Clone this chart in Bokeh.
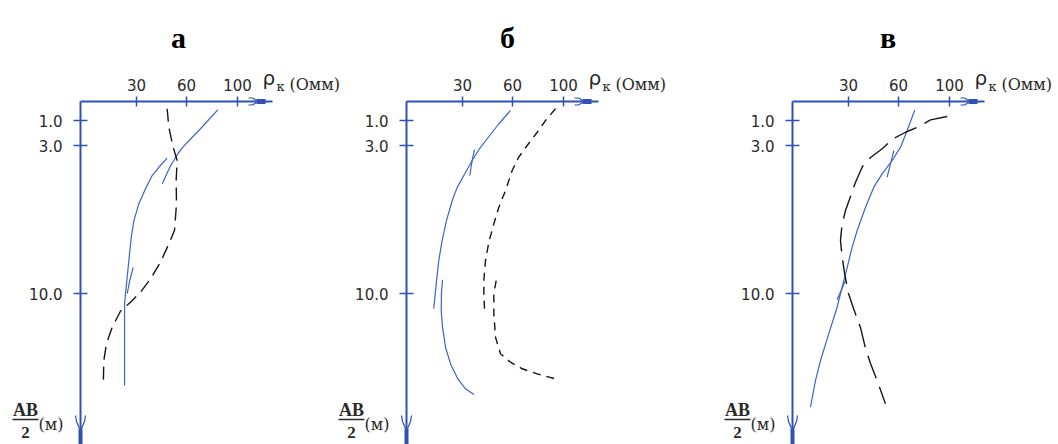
import numpy as np
from bokeh.plotting import figure
from bokeh.models import Range1d, LinearAxis, FixedTicker
from bokeh.core.properties import value
from bokeh.embed import file_html
from bokeh.resources import INLINE

# ---------------- data ----------------
panel_titles = ["а", "б", "в"]
rho_tick_values = [30, 60, 100]
rho_tick_labels = ["30", "60", "100"]
ab_tick_values = [1.0, 3.0, 10.0]
ab_tick_labels = ["1.0", "3.0", "10.0"]
rho_symbol = "ρ"
rho_sub = "к"
rho_unit = ["(Омм)", "(Омм)", "(Омм)"]
ab_num = "AB"
ab_den = "2"
ab_unit = "(м)"

# panel а
a_blue1_rho = [84.5, 71.0, 64.5, 57.4, 54.4, 50.0, 45.4]
a_blue1_ab = [0.44, 1.66, 2.34, 3.11, 3.44, 4.03, 4.81]
a_blue2_rho = [48.4, 43.4, 39.4, 35.4, 31.4, 28.6, 27.2, 26.1, 25.0, 24.1, 23.6, 23.6]
a_blue2_ab = [3.60, 4.03, 4.42, 5.05, 5.76, 6.55, 7.34, 8.28, 9.23, 10.01, 10.49, 14.35]
a_blue3_rho = [28.2, 26.4, 25.0]
a_blue3_ab = [8.76, 9.39, 10.01]
a_dash_rho = [48.4, 49.4, 52.0, 54.4, 53.8, 54.0, 52.8, 49.4, 44.4, 38.4, 32.4, 26.8, 21.4, 17.0, 13.9, 12.5, 12.2]
a_dash_ab = [0.38, 1.54, 3.08, 3.71, 4.66, 5.76, 7.02, 7.65, 8.52, 9.31, 9.94, 10.41, 10.84, 11.59, 12.38, 13.17, 14.35]

# panel б
b_blue1_rho = [58.8, 51.8, 44.8, 39.8, 35.8, 30.8, 27.2, 24.5, 21.4, 19.1, 17.3, 16.1, 15.2, 14.6]
b_blue1_ab = [0.47, 1.26, 2.46, 3.20, 3.71, 4.42, 4.97, 5.60, 6.55, 7.49, 8.44, 9.39, 10.18, 10.72]
b_blue2_rho = [37.2, 35.8, 34.4]
b_blue2_ab = [3.20, 3.71, 4.42]
b_blue3_rho = [19.3, 18.7, 18.6, 19.3, 20.9, 23.6, 27.5, 31.8, 36.8]
b_blue3_ab = [9.35, 10.01, 10.80, 11.59, 12.54, 13.33, 14.04, 14.51, 14.78]
b_dash1_rho = [93.7, 85.9, 79.4, 71.5, 64.9, 59.8, 55.8, 51.8, 48.8, 45.8, 43.8, 42.8, 42.8, 43.2]
b_dash1_ab = [0.38, 1.0, 1.94, 3.0, 3.55, 4.18, 5.13, 5.92, 6.70, 7.57, 8.44, 9.39, 10.01, 10.72]
b_dash2_rho = [50.2, 48.8, 48.8, 49.8, 52.8, 58.8, 67.6, 79.4, 93.7]
b_dash2_ab = [9.39, 10.01, 10.96, 12.07, 12.85, 13.25, 13.56, 13.80, 14.04]

# panel в
c_blue1_rho = [72.8, 66.8, 61.6, 56.2, 50.2, 45.2, 40.2, 35.2, 32.2, 29.3, 26.6, 23.9, 19.4, 15.0, 12.3, 9.6]
c_blue1_ab = [0.44, 1.80, 3.08, 3.71, 4.34, 4.97, 5.92, 7.02, 7.81, 8.76, 9.70, 10.65, 11.91, 13.17, 14.12, 15.38]
c_blue2_rho = [57.2, 53.2]
c_blue2_ab = [3.24, 4.50]
c_blue3_rho = [28.4, 23.9]
c_blue3_ab = [9.39, 10.30]
c_dash_rho = [98.2, 85.1, 74.7, 65.5, 57.0, 50.4, 43.2, 38.4, 34.2, 31.2, 28.4, 26.5, 25.7, 26.5, 27.9, 30.0, 33.0, 37.2, 40.2, 43.2, 47.4, 52.2]
c_dash_ab = [0.79, 0.97, 1.54, 1.94, 2.44, 3.14, 3.57, 3.99, 4.74, 5.41, 6.07, 6.78, 7.49, 8.20, 9.05, 10.0, 10.71, 11.61, 12.60, 13.31, 14.16, 15.22]

# ---------------- layout / styles ----------------
W, H = 1058, 444
ORIGIN_X = [80, 406, 792]        # page px of each panel's vertical axis
ORIGIN_Y = 101                   # page px of the horizontal axes
TITLE_U = [98, 101, 95.5]
DASHES = ["13 7", "8 6", "24 9"]
AXIS_COLOR = "#2f52b4"
BLUE = "#3d63c9"
BLACK = "#151515"
TXT = "#2a2a2a"

# schematic (non-uniform) axis scales of the original drawing
RHO_AT = [0, 30, 60, 100]
U_AT = [0, 56, 106, 157]
AB_AT = [0, 1, 3, 10]
V_AT = [0, 19, 44, 192]


def to_u(r):
    r = np.asarray(r, float)
    return np.where(r > 100, 157 + (r - 100) * 51 / 40, np.interp(r, RHO_AT, U_AT))


def to_v(a):
    a = np.asarray(a, float)
    return np.where(a > 10, 192 + (a - 10) * 148 / 7, np.interp(a, AB_AT, V_AT))


p = figure(width=W, height=H, output_backend="svg", toolbar_location=None,
           x_range=Range1d(0, W), y_range=Range1d(H - ORIGIN_Y, -ORIGIN_Y),
           x_axis_location=None, y_axis_location=None, min_border=0, title=None)
p.outline_line_color = None
p.grid.visible = False
p.background_fill_color = "white"
p.border_fill_color = "white"

names = ["a", "b", "c"]
for nm, x0 in zip(names, ORIGIN_X):
    p.extra_x_ranges[nm] = Range1d(-x0, W - x0)

panels = [
    dict(blue=[(a_blue1_rho, a_blue1_ab), (a_blue2_rho, a_blue2_ab), (a_blue3_rho, a_blue3_ab)],
         dash=[(a_dash_rho, a_dash_ab)]),
    dict(blue=[(b_blue1_rho, b_blue1_ab), (b_blue2_rho, b_blue2_ab), (b_blue3_rho, b_blue3_ab)],
         dash=[(b_dash1_rho, b_dash1_ab), (b_dash2_rho, b_dash2_ab)]),
    dict(blue=[(c_blue1_rho, c_blue1_ab), (c_blue2_rho, c_blue2_ab), (c_blue3_rho, c_blue3_ab)],
         dash=[(c_dash_rho, c_dash_ab)]),
]

u_ticks = [float(t) for t in to_u(rho_tick_values)]
v_ticks = [float(t) for t in to_v(ab_tick_values)]
U_END = 192
V_END = H - ORIGIN_Y

for i, nm in enumerate(names):
    # horizontal (top) axis
    xa = LinearAxis(x_range_name=nm, fixed_location=0, bounds=(0, U_END),
                    ticker=FixedTicker(ticks=u_ticks),
                    major_label_overrides={t: l for t, l in zip(u_ticks, rho_tick_labels)})
    xa.axis_line_color = AXIS_COLOR
    xa.axis_line_width = 2
    xa.major_tick_line_color = AXIS_COLOR
    xa.major_tick_line_width = 1.5
    xa.major_tick_in = 5
    xa.major_tick_out = 5
    xa.minor_tick_line_color = None
    xa.major_label_standoff = 6
    xa.major_label_text_font = "DejaVu Sans"
    xa.major_label_text_font_size = "15px"
    xa.major_label_text_color = TXT
    p.add_layout(xa, "above")

    # vertical (left) axis
    ya = LinearAxis(x_range_name=nm, fixed_location=0, bounds=(0, V_END),
                    ticker=FixedTicker(ticks=v_ticks),
                    major_label_overrides={t: l for t, l in zip(v_ticks, ab_tick_labels)})
    ya.axis_line_color = AXIS_COLOR
    ya.axis_line_width = 2
    ya.major_tick_line_color = AXIS_COLOR
    ya.major_tick_line_width = 1.5
    ya.major_tick_in = 7
    ya.major_tick_out = 7
    ya.minor_tick_line_color = None
    ya.major_label_standoff = 11
    ya.major_label_text_font = "DejaVu Sans"
    ya.major_label_text_font_size = "15px"
    ya.major_label_text_color = TXT
    p.add_layout(ya, "left")

    # curves
    for r, a in panels[i]["blue"]:
        p.line(to_u(r), to_v(a), x_range_name=nm, line_color=BLUE, line_width=1.2)
    for r, a in panels[i]["dash"]:
        p.line(to_u(r), to_v(a), x_range_name=nm, line_color=BLACK, line_width=1.4,
               line_dash=DASHES[i])

    # arrow decorations at axis ends
    p.multi_line(xs=[[168, 172, 176], [168, 172, 176]], ys=[[-3.5, -3.5, -1], [3.5, 3.5, 1]],
                 x_range_name=nm, line_color=AXIS_COLOR, line_width=1.2)
    p.line([176, 185], [0, 0], x_range_name=nm, line_color=AXIS_COLOR, line_width=5)
    p.multi_line(xs=[[-5, -4, -1], [5, 4, 1]], ys=[[314, 320, 327], [314, 320, 327]],
                 x_range_name=nm, line_color=AXIS_COLOR, line_width=1.2)
    p.line([0, 0], [327, V_END], x_range_name=nm, line_color=AXIS_COLOR, line_width=4)

    # titles
    p.text(x=[TITLE_U[i]], y=[-64], text=[panel_titles[i]], x_range_name=nm,
           text_font=value("Liberation Serif"), text_font_style="bold",
           text_font_size="30px", text_align="center", text_baseline="alphabetic",
           text_color="black")

    # rho axis label
    p.text(x=[182], y=[-24], text=[rho_symbol], x_range_name=nm,
           text_font=value("DejaVu Sans"), text_font_size="20px",
           text_align="left", text_baseline="middle", text_color=TXT)
    p.text(x=[196], y=[-15], text=[rho_sub], x_range_name=nm,
           text_font=value("DejaVu Serif"), text_font_size="13px",
           text_align="left", text_baseline="middle", text_color=TXT)
    p.text(x=[209], y=[-17], text=[rho_unit[i]], x_range_name=nm,
           text_font=value("DejaVu Serif"), text_font_size="16px",
           text_align="left", text_baseline="middle", text_color=TXT)

    # AB/2 (м) label
    p.text(x=[-55], y=[308], text=[ab_num], x_range_name=nm,
           text_font=value("Liberation Serif"), text_font_style="bold",
           text_font_size="18px", text_align="center", text_baseline="middle",
           text_color=TXT)
    p.line([-68, -42], [318, 318], x_range_name=nm, line_color=TXT, line_width=1.5)
    p.text(x=[-55], y=[331], text=[ab_den], x_range_name=nm,
           text_font=value("Liberation Serif"), text_font_style="bold",
           text_font_size="17px", text_align="center", text_baseline="middle",
           text_color=TXT)
    p.text(x=[-42], y=[323], text=[ab_unit], x_range_name=nm,
           text_font=value("DejaVu Serif"), text_font_size="16px",
           text_align="left", text_baseline="middle", text_color=TXT)

open("out.html", "w").write(file_html(p, INLINE))
